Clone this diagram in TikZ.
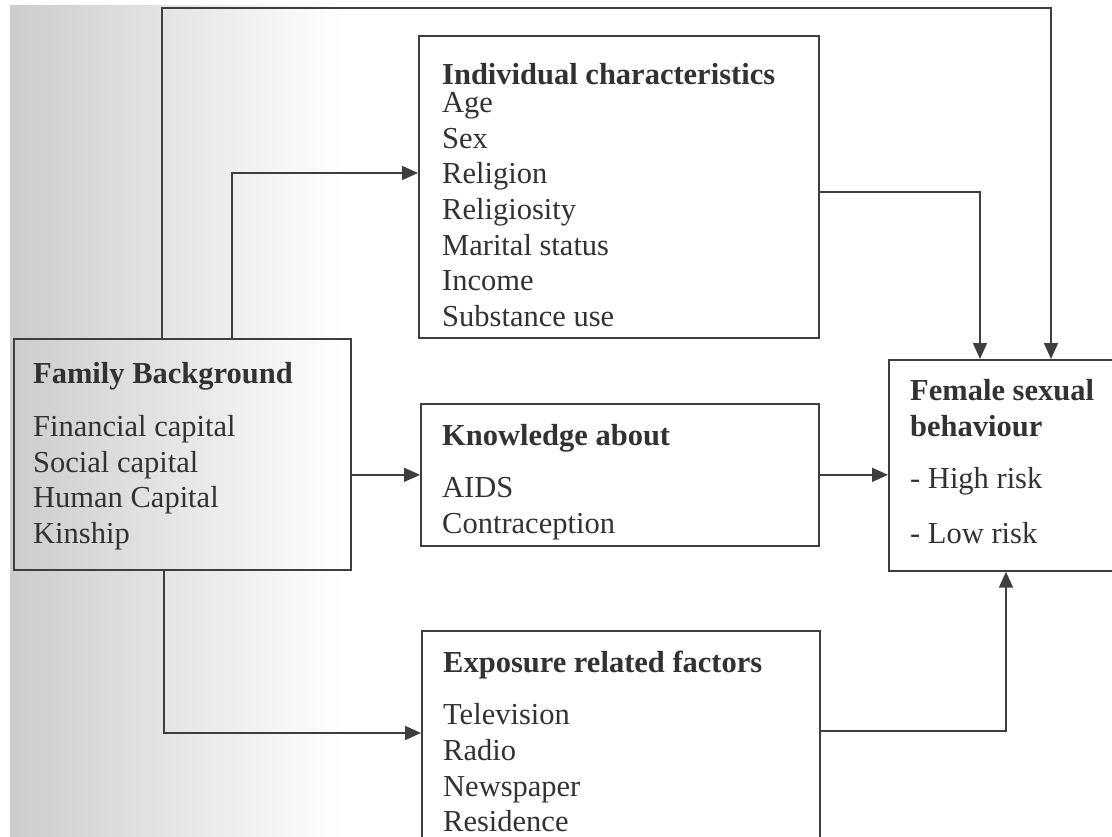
\documentclass[tikz,border=0pt]{standalone}
\usepackage{fontspec}
\setmainfont{Liberation Serif}
\usetikzlibrary{positioning,arrows.meta}
\definecolor{ink}{RGB}{62,62,62}
\definecolor{scan}{RGB}{204,204,204}
\tikzset{
    box/.style={draw=ink, line width=1.7pt, inner sep=0pt, anchor=north west},
    txt/.style={inner sep=0pt, align=left, text=ink!80!black,
        font=\fontsize{30.5}{35.7}\selectfont},
    arr/.style={draw=ink, line width=1.7pt, -{Triangle[length=16pt,width=14pt]}}
}

\begin{document}
\begin{tikzpicture}[x=1pt,y=-1pt]
\useasboundingbox (0,0) rectangle (1112,837);
\shade[left color=scan, right color=white] (10,6) rectangle (345,837);

% boxes
\node[box, minimum width=337pt, minimum height=231pt] (fam) at (13,338) {};
\node[box, minimum width=400pt, minimum height=302pt] (ind) at (418,35) {};
\node[box, minimum width=398pt, minimum height=142pt] (know) at (420,403) {};
\node[box, minimum width=398pt, minimum height=230pt] (exp) at (421,630) {};
\node[box, minimum width=240pt, minimum height=211pt] (fem) at (888,359) {};

% box texts
\node[txt, below right=24pt and 20pt of fam.north west] (famtxt)
    {\textbf{Family Background}\\[17.3pt] Financial capital\\ Social capital\\
     Human Capital\\ Kinship};
\node[txt, below right=28pt and 24pt of ind.north west] (indtxt)
    {\textbf{Individual characteristics}\\[-7.7pt] Age\\ Sex\\ Religion\\
     Religiosity\\ Marital status\\ Income\\ Substance use};
\node[txt, below right=21pt and 22pt of know.north west] (knowtxt)
    {\textbf{Knowledge about}\\[16.3pt] AIDS\\ Contraception};
\node[txt, below right=21pt and 22pt of exp.north west] (exptxt)
    {\textbf{Exposure related factors}\\[16.3pt] Television\\ Radio\\
     Newspaper\\ Residence};
\node[txt, below right=20pt and 22pt of fem.north west] (femtxt)
    {\textbf{Female sexual}\\ \textbf{behaviour}\\[16.3pt] - High risk\\[19.3pt]
     - Low risk};

% connectors
\coordinate (top) at (600,8);
\draw[arr] ([xshift=149pt]fam.north west) |- (top) -| ([xshift=163pt]fem.north west);
\draw[arr] ([xshift=219pt]fam.north west) |- ([yshift=-138pt]ind.north west);
\draw[arr] ([yshift=-157pt]ind.north east) -| ([xshift=92pt]fem.north west);
\draw[arr] (fam.east |- know.west) -- (know.west);
\draw[arr] (know.east) -- (fem.west |- know.east);
\draw[arr] ([xshift=151pt]fam.south west) |- ([yshift=-103pt]exp.north west);
\draw[arr] ([yshift=-101pt]exp.north east) -| ([xshift=118pt]fem.south west);
\end{tikzpicture}
\end{document}
